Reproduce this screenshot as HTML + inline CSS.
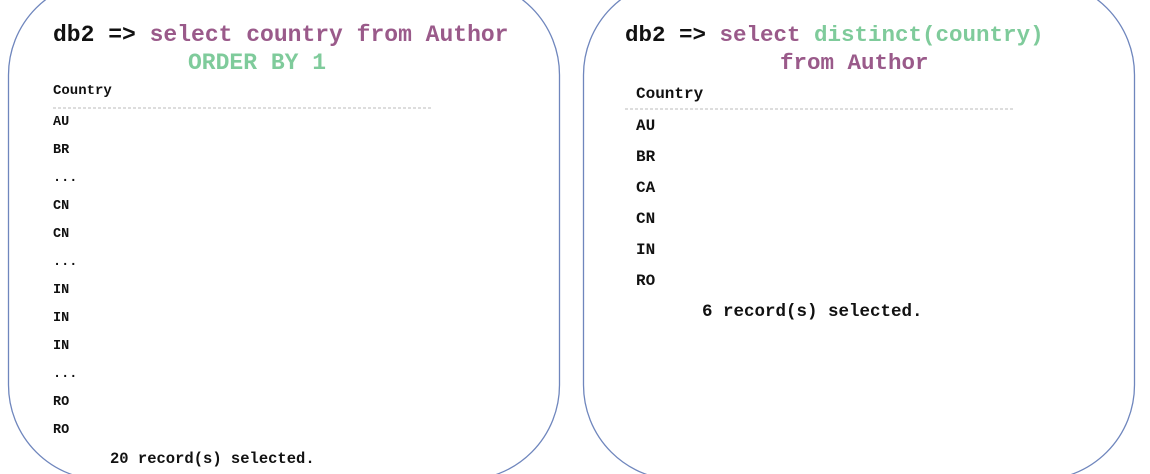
<!DOCTYPE html>
<html><head><style>
body{margin:0;width:1150px;height:474px;background:#fff;overflow:hidden;position:relative;font-family:"Liberation Mono",monospace;font-weight:bold}
svg{position:absolute;left:0;top:0}
.t{position:absolute;white-space:pre;line-height:1}
.p{color:#9a5a8a}.g{color:#7fcb9b}.k{color:#111}
</style></head><body>
<svg width="1150" height="474">
<rect x="8.5" y="-20" width="551" height="500" rx="95" fill="none" stroke="#6f86bd" stroke-width="1.3"/>
<rect x="583.5" y="-20" width="551" height="500" rx="95" fill="none" stroke="#6f86bd" stroke-width="1.3"/>
<line x1="53" y1="108" x2="432" y2="108" stroke="#bbb" stroke-dasharray="3,2"/>
<line x1="625" y1="109" x2="1015" y2="109" stroke="#bbb" stroke-dasharray="3,2"/>
</svg>
<div class="t k" style="left:53px;top:24px;font-size:23px">db2 =&gt; <span class="p">select country from Author</span></div>
<div class="t g" style="left:188px;top:52px;font-size:23px">ORDER BY 1</div>
<div class="t k" style="left:625px;top:24px;font-size:22.5px">db2 =&gt; <span class="p">select </span><span class="g">distinct(country)</span></div>
<div class="t p" style="left:780px;top:52px;font-size:22.5px">from Author</div>

<div class="t k" style="left:53px;top:84px;font-size:14px">Country</div>
<div class="t k" style="left:53px;top:109px;font-size:13.5px;line-height:28px">AU
BR
...
CN
CN
...
IN
IN
IN
...
RO
RO</div>
<div class="t k" style="left:110px;top:452px;font-size:15.5px">20 record(s) selected.</div>

<div class="t k" style="left:636px;top:86px;font-size:16px">Country</div>
<div class="t k" style="left:636px;top:111px;font-size:16px;line-height:31px">AU
BR
CA
CN
IN
RO</div>
<div class="t k" style="left:702px;top:304px;font-size:17.5px">6 record(s) selected.</div>
</body></html>
